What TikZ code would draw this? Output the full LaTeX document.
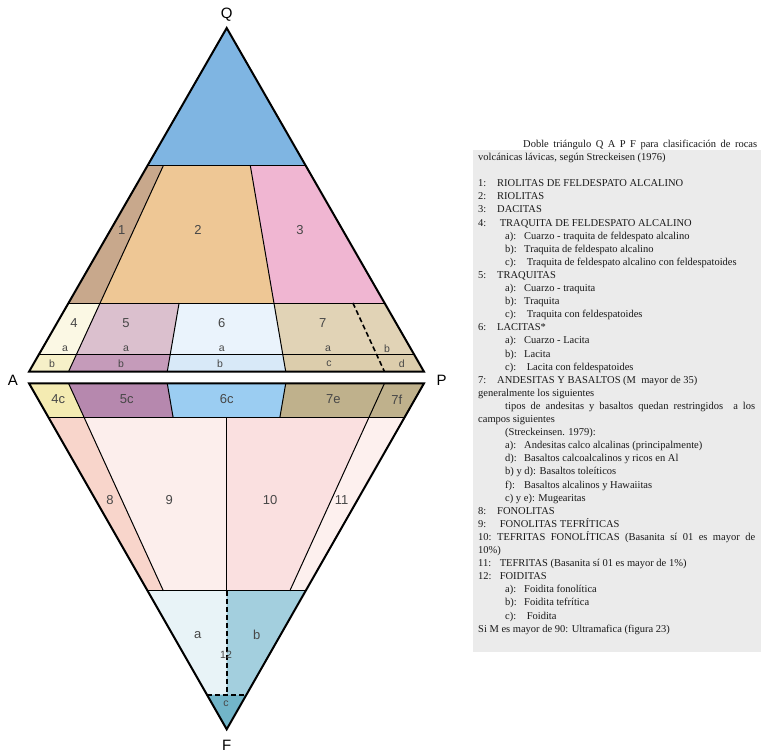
\documentclass[tikz,border=0pt]{standalone}
\usepackage{fontspec}
\setmainfont{Liberation Serif}
\setsansfont{Liberation Sans}
\usetikzlibrary{calc}
\definecolor{cQ}{HTML}{7FB5E2}
\definecolor{cA}{HTML}{C8A88C}
\definecolor{cB}{HTML}{EEC795}
\definecolor{cC}{HTML}{F0B6D2}
\definecolor{cFa}{HTML}{FBF8E4}
\definecolor{cFb}{HTML}{F6F0C8}
\definecolor{cGa}{HTML}{DBC0CE}
\definecolor{cGb}{HTML}{C59BBA}
\definecolor{cHa}{HTML}{EAF3FC}
\definecolor{cHb}{HTML}{D8E9F8}
\definecolor{cIa}{HTML}{E1D3B6}
\definecolor{cIb}{HTML}{DCCDAC}
\definecolor{cFc}{HTML}{F4EBB2}
\definecolor{cGc}{HTML}{B688AE}
\definecolor{cHc}{HTML}{9BCDF2}
\definecolor{cIe}{HTML}{BFB18C}
\definecolor{cJ}{HTML}{F8D5CB}
\definecolor{cK}{HTML}{FCEEEC}
\definecolor{cL}{HTML}{FAE0E0}
\definecolor{cM}{HTML}{FDF0EE}
\definecolor{cNa}{HTML}{E8F3F7}
\definecolor{cNb}{HTML}{A3CFDE}
\definecolor{cNc}{HTML}{72B5C9}
\definecolor{boxgray}{HTML}{EBEBEB}
\newcommand\numit[2]{\makebox[19pt][l]{#1}#2}
\newcommand\subit[2]{\hspace*{27pt}\makebox[19pt][l]{#1}#2}
\begin{document}
\begin{tikzpicture}[x=1pt,y=-1pt,
  outer/.style={line width=2pt, line join=miter},
  inner/.style={line width=1pt},
  dsh/.style={line width=1.6pt, dash pattern=on 5pt off 3pt},
  lbl/.style={font=\sffamily\fontsize{13}{15}\selectfont, text=black!72, inner sep=0pt},
  slbl/.style={font=\sffamily\fontsize{10.5}{12}\selectfont, text=black!72, inner sep=0pt},
  vtx/.style={font=\sffamily\fontsize{15}{17}\selectfont, inner sep=0pt},
  listing/.style={anchor=north west, inner sep=0pt, align=left, font=\fontsize{10.5}{13.1}\selectfont, text=black!90}]
\useasboundingbox[fill=white] (0,0) rectangle (761,752);

% ---------- text box ----------
\fill[boxgray] (473,150) rectangle (761,652);

% ---------- upper triangle fills ----------
\coordinate (Q) at (226.7,28);
\coordinate (A) at (29,371.7);
\coordinate (P) at (424,371.7);
\fill[cQ] (Q) -- (147.6,165.5) -- (305.6,165.5) -- cycle;
\fill[cA] (147.6,165.5) -- (163.4,165.5) -- (100.1,303) -- (68.5,303) -- cycle;
\fill[cB] (163.4,165.5) -- (250.3,165.5) -- (273.9,303) -- (100.1,303) -- cycle;
\fill[cC] (250.3,165.5) -- (305.6,165.5) -- (384.5,303) -- (273.9,303) -- cycle;
\fill[cFa] (68.5,303) -- (100.1,303) -- (76.4,354.5) -- (38.9,354.5) -- cycle;
\fill[cFb] (38.9,354.5) -- (76.4,354.5) -- (68.5,371.7) -- (29,371.7) -- cycle;
\fill[cGa] (100.1,303) -- (179.1,303) -- (170.2,354.5) -- (76.4,354.5) -- cycle;
\fill[cGb] (76.4,354.5) -- (170.2,354.5) -- (167.25,371.7) -- (68.5,371.7) -- cycle;
\fill[cHa] (179.1,303) -- (273.9,303) -- (282.8,354.5) -- (170.2,354.5) -- cycle;
\fill[cHb] (170.2,354.5) -- (282.8,354.5) -- (285.75,371.7) -- (167.25,371.7) -- cycle;
\fill[cIa] (273.9,303) -- (384.5,303) -- (414.1,354.5) -- (282.8,354.5) -- cycle;
\fill[cIb] (282.8,354.5) -- (414.1,354.5) -- (424,371.7) -- (285.75,371.7) -- cycle;

% upper inner lines
\draw[inner] (147.6,165.5) -- (305.6,165.5);
\draw[inner] (68.5,303) -- (384.5,303);
\draw[inner] (38.9,354.5) -- (414.1,354.5);
\draw[inner] (163.4,165.5) -- (68.5,371.7);
\draw[inner] (250.3,165.5) -- (285.75,371.7);
\draw[inner] (179.1,303) -- (167.25,371.7);
\draw[dsh] (352.9,303) -- (384.5,371.7);
\draw[outer] (Q) -- (A) -- (P) -- cycle;

% ---------- lower triangle fills ----------
\coordinate (A2) at (29,383.3);
\coordinate (P2) at (424,383.3);
\coordinate (F) at (226.7,729.3);
\fill[cFc] (A2) -- (68.5,383.3) -- (84.3,417.9) -- (48.8,417.9) -- cycle;
\fill[cGc] (68.5,383.3) -- (167.25,383.3) -- (173.2,417.9) -- (84.3,417.9) -- cycle;
\fill[cHc] (167.25,383.3) -- (285.75,383.3) -- (279.8,417.9) -- (173.2,417.9) -- cycle;
\fill[cIe] (285.75,383.3) -- (P2) -- (404.3,417.9) -- (279.8,417.9) -- cycle;
\fill[cJ] (48.8,417.9) -- (84.3,417.9) -- (163.4,590.9) -- (147.6,590.9) -- cycle;
\fill[cK] (84.3,417.9) -- (226.7,417.9) -- (226.7,590.9) -- (163.4,590.9) -- cycle;
\fill[cL] (226.7,417.9) -- (368.7,417.9) -- (289.8,590.9) -- (226.7,590.9) -- cycle;
\fill[cM] (368.7,417.9) -- (404.3,417.9) -- (305.6,590.9) -- (289.8,590.9) -- cycle;
\fill[cNa] (147.6,590.9) -- (226.7,590.9) -- (226.7,694.7) -- (206.9,694.7) -- cycle;
\fill[cNb] (226.7,590.9) -- (305.6,590.9) -- (246.4,694.7) -- (226.7,694.7) -- cycle;
\fill[cNc] (206.9,694.7) -- (246.4,694.7) -- (F) -- cycle;

% lower inner lines
\draw[inner] (48.8,417.9) -- (404.3,417.9);
\draw[inner] (147.6,590.9) -- (305.6,590.9);
\draw[inner] (68.5,383.3) -- (163.4,590.9);
\draw[inner] (167.25,383.3) -- (173.2,417.9);
\draw[inner] (285.75,383.3) -- (279.8,417.9);
\draw[inner] (384.5,383.3) -- (289.8,590.9);
\draw[inner] (226.7,417.9) -- (226.7,590.9);
\draw[dsh] (226.7,590.9) -- (226.7,694.7);
\draw[dsh] (206.9,694.7) -- (246.4,694.7);
\draw[outer] (A2) -- (P2) -- (F) -- cycle;

% ---------- labels ----------
\node[vtx] (lQ) at (226.7,15) {Q};
\node[vtx] (lA) at (13,380) {A};
\node[vtx] (lP) at (441.7,380) {P};
\node[vtx] (lF) at (226.7,745) {F};

\node[lbl] (n1) at (121.7,230) {1};
\node[lbl] (n2) at (198,230) {2};
\node[lbl] (n3) at (300,230) {3};
\node[lbl] (n4) at (74,323) {4};
\node[lbl] (n5) at (126,323) {5};
\node[lbl] (n6) at (221.7,323) {6};
\node[lbl] (n7) at (322.7,323) {7};
\node[slbl] (n4a) at (65,349) {a};
\node[slbl] (n5a) at (126,349) {a};
\node[slbl] (n6a) at (221.7,349) {a};
\node[slbl] (n7a) at (328,349) {a};
\node[slbl] (n7b) at (387,349) {b};
\node[slbl] (n4b) at (52,364) {b};
\node[slbl] (n5b) at (121,364) {b};
\node[slbl] (n6b) at (220,364) {b};
\node[slbl] (n7c) at (329,364) {c};
\node[slbl] (n7d) at (401.7,364) {d};

\node[lbl] (n4c) at (58.3,399.3) {4c};
\node[lbl] (n5c) at (126.7,399.3) {5c};
\node[lbl] (n6c) at (226.7,399.3) {6c};
\node[lbl] (n7e) at (333.3,399.3) {7e};
\node[lbl] (n7f) at (396.7,399.3) {7f};
\node[lbl] (n8) at (110,500) {8};
\node[lbl] (n9) at (169.3,500) {9};
\node[lbl] (n10) at (270,500) {10};
\node[lbl] (n11) at (341.7,500) {11};
\node[lbl] (n12a) at (197.7,635) {a};
\node[lbl] (n12b) at (256.7,635) {b};
\node[slbl] (n12) at (226,655) {12};
\node[slbl] (n12c) at (226,703.3) {c};

% ---------- legend text ----------
\node[anchor=base west, inner sep=0pt, font=\fontsize{10.5}{13.1}\selectfont, text=black!90] (tit) at (523,147.5)
  {\makebox[234pt][s]{Doble triángulo Q A P F para clasificación de rocas}};
\node[listing] (leg) at (478,151.2) {\strut volcánicas lávicas, según Streckeisen (1976)\\
\strut\\
\numit{1:}{RIOLITAS DE FELDESPATO ALCALINO}\\
\numit{2:}{RIOLITAS}\\
\numit{3:}{DACITAS}\\
\numit{4:}{\ TRAQUITA DE FELDESPATO ALCALINO}\\
\subit{a):}{Cuarzo - traquita de feldespato alcalino}\\
\subit{b):}{Traquita de feldespato alcalino}\\
\subit{c):}{\ Traquita de feldespato alcalino con feldespatoides}\\
\numit{5:}{TRAQUITAS}\\
\subit{a):}{Cuarzo - traquita}\\
\subit{b):}{Traquita}\\
\subit{c):}{\ Traquita con feldespatoides}\\
\numit{6:}{LACITAS*}\\
\subit{a):}{Cuarzo - Lacita}\\
\subit{b):}{Lacita}\\
\subit{c):}{\ Lacita con feldespatoides}\\
\numit{7:}{ANDESITAS Y BASALTOS (M\ \ mayor de 35)}\\
generalmente los siguientes\\
\hspace*{27pt}\makebox[250pt][s]{tipos de andesitas y basaltos quedan restringidos\ \ a los}\\
campos siguientes\\
\hspace*{27pt}(Streckeinsen. 1979):\\
\subit{a):}{Andesitas calco alcalinas (principalmente)}\\
\subit{d):}{Basaltos calcoalcalinos y ricos en Al}\\
\hspace*{27pt}b) y d): Basaltos toleíticos\\
\subit{f):}{Basaltos alcalinos y Hawaiitas}\\
\hspace*{27pt}c) y e): Mugearitas\\
\numit{8:}{FONOLITAS}\\
\numit{9:}{\ FONOLITAS TEFRÍTICAS}\\
\numit{10:}{\makebox[258pt][s]{TEFRITAS FONOLÍTICAS (Basanita sí 01 es mayor de}}\\
10\%)\\
\numit{11:}{\ TEFRITAS (Basanita sí 01 es mayor de 1\%)}\\
\numit{12:}{\ FOIDITAS}\\
\subit{a):}{Foidita fonolítica}\\
\subit{b):}{Foidita tefrítica}\\
\subit{c):}{\ Foidita}\\
Si M es mayor de 90: Ultramafica (figura 23)};
\end{tikzpicture}
\end{document}
